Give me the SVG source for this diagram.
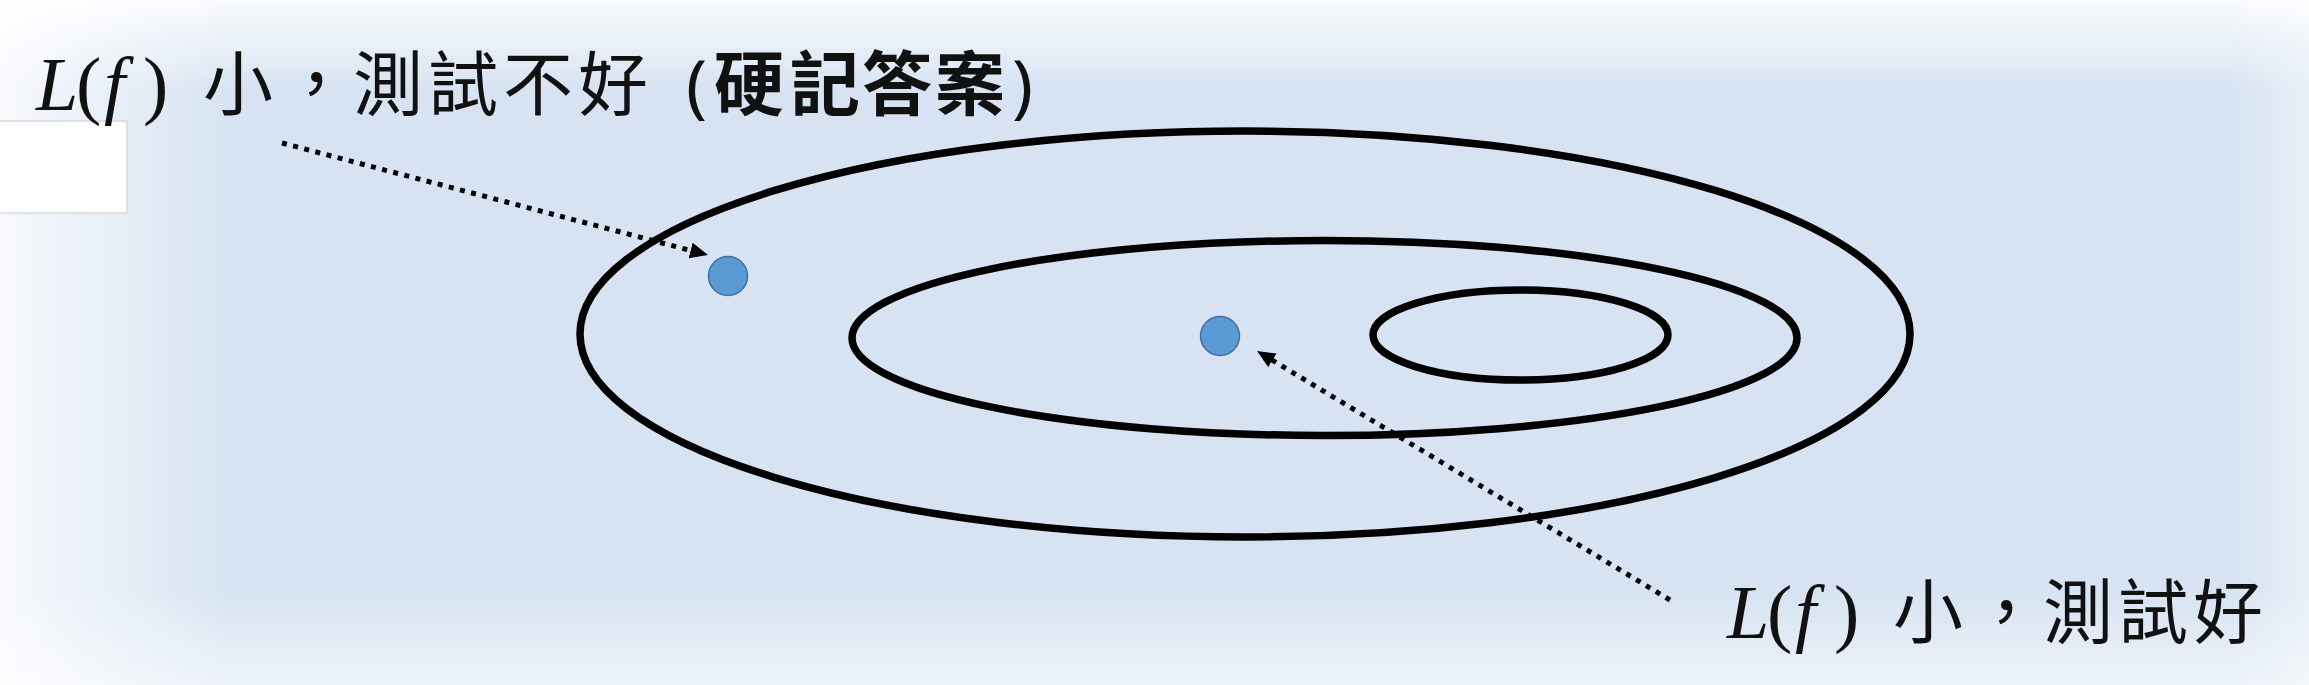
<svg xmlns="http://www.w3.org/2000/svg" width="2309" height="685" viewBox="0 0 2309 685">
  <defs>
    <linearGradient id="gTop" x1="0" y1="0" x2="0" y2="1">
      <stop offset="0" stop-color="#ffffff" stop-opacity="0.85"/>
      <stop offset="1" stop-color="#ffffff" stop-opacity="0"/>
    </linearGradient>
    <linearGradient id="gLeft" x1="0" y1="0" x2="1" y2="0">
      <stop offset="0" stop-color="#ffffff" stop-opacity="0.8"/>
      <stop offset="1" stop-color="#ffffff" stop-opacity="0"/>
    </linearGradient>
    <linearGradient id="gBottom" x1="0" y1="1" x2="0" y2="0">
      <stop offset="0" stop-color="#ffffff" stop-opacity="0.55"/>
      <stop offset="1" stop-color="#ffffff" stop-opacity="0"/>
    </linearGradient>
    <linearGradient id="gRight" x1="1" y1="0" x2="0" y2="0">
      <stop offset="0" stop-color="#ffffff" stop-opacity="0.4"/>
      <stop offset="1" stop-color="#ffffff" stop-opacity="0"/>
    </linearGradient>
    <marker id="arrow" markerUnits="userSpaceOnUse" markerWidth="20" markerHeight="18" refX="6" refY="8" orient="auto">
      <path d="M0,0 L18,8 L0,16 Z" fill="#000"/>
    </marker>
    <style>
      .contour { fill: none; stroke: #000; stroke-width: 7.5; }
      .pt { fill: #5B9BD5; stroke: #41719C; stroke-width: 1.5; }
      .conn { fill: none; stroke: #000; stroke-width: 5; stroke-dasharray: 5 6.5; marker-end: url(#arrow); }
      .math { font-family: "Liberation Serif", serif; font-size: 76px; fill: #111; }
      .cjk { font-family: "Noto Sans", "Noto Sans CJK TC", sans-serif; font-size: 70px; fill: #111; }
      .bold { font-weight: bold; }
    </style>
  </defs>

  <!-- background -->
  <rect x="0" y="0" width="2309" height="685" fill="#D7E3F2"/>
  <rect x="0" y="0" width="2309" height="90" fill="url(#gTop)"/>
  <rect x="0" y="0" width="230" height="685" fill="url(#gLeft)"/>
  <rect x="0" y="590" width="2309" height="95" fill="url(#gBottom)"/>
  <rect x="2230" y="0" width="79" height="685" fill="url(#gRight)"/>

  <!-- white box remnant -->
  <g id="box">
    <rect x="-2" y="121" width="129" height="92" fill="#ffffff" stroke="#d8d8d8" stroke-width="1.5"/>
  </g>

  <!-- contours -->
  <g id="outer-contour"><ellipse class="contour" cx="1245" cy="334" rx="665" ry="203"/></g>
  <g id="middle-contour"><ellipse class="contour" cx="1324.5" cy="338" rx="472.5" ry="97.5"/></g>
  <g id="inner-contour"><ellipse class="contour" cx="1520.5" cy="335" rx="147.5" ry="45"/></g>

  <!-- points -->
  <g id="point-overfit"><circle class="pt" cx="728" cy="276" r="19.5"/></g>
  <g id="point-good"><circle class="pt" cx="1220" cy="336" r="19.5"/></g>

  <!-- connectors -->
  <g id="connectors">
    <line class="conn" x1="282" y1="143" x2="696.4" y2="252"/>
    <line class="conn" x1="1670" y1="600" x2="1267.3" y2="357.2"/>
  </g>

  <!-- labels -->
  <g id="label-overfit">
    <text class="math" y="110"><tspan x="36" font-style="italic">L</tspan><tspan x="76">(</tspan><tspan x="104" font-style="italic">f</tspan><tspan x="143">)</tspan></text>
    <text class="cjk" y="110" x="203 281 353 428 503 578">小，測試不好</text>
    <text class="cjk" x="686" y="110">(</text>
    <text class="cjk bold" y="110" x="714 790 862 935">硬記答案</text>
    <text class="cjk" x="1012" y="110">)</text>
  </g>
  <g id="label-good">
    <text class="math" y="638"><tspan x="1727" font-style="italic">L</tspan><tspan x="1767">(</tspan><tspan x="1795" font-style="italic">f</tspan><tspan x="1834">)</tspan></text>
    <text class="cjk" y="638" x="1893 1971 2043 2118 2193">小，測試好</text>
  </g>
</svg>
